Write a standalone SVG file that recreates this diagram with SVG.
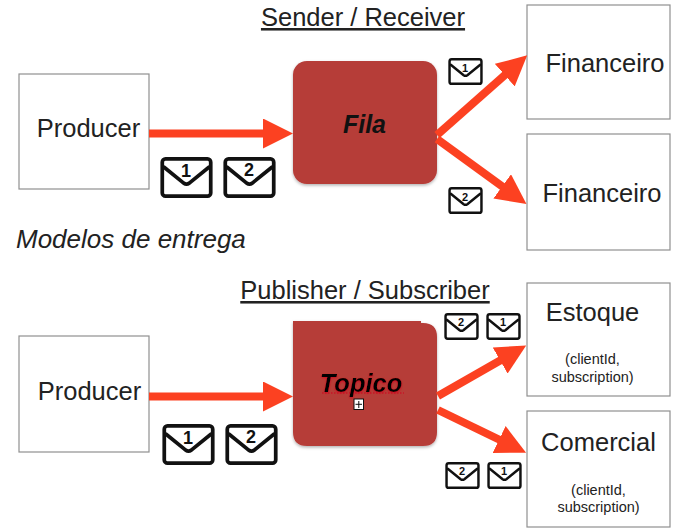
<svg xmlns="http://www.w3.org/2000/svg" width="681" height="531" viewBox="0 0 681 531">
<defs>
<style>
text{font-family:"Liberation Sans",Arial,sans-serif;fill:#222}
.box{fill:#fff;stroke:#909090;stroke-width:1.2}
.lbl{font-size:25.500px;text-anchor:middle}
.title{font-size:25.500px;text-anchor:middle;text-decoration:underline}
.small{font-size:14.500px;text-anchor:middle}
.red{fill:#b63c38}
.arrow{stroke:#fc4121;fill:none}
.env{fill:#fff;stroke:#111;stroke-linejoin:round;stroke-linecap:round;stroke-width:4}
.n{font-weight:bold;text-anchor:middle;fill:#111}
.big{font-size:18px}
.sm{font-size:11px}
</style>
<marker id="head" markerUnits="userSpaceOnUse" markerWidth="30" markerHeight="30" refX="1" refY="15" orient="auto" viewBox="0 0 30 30"><path d="M0 0L30 15L0 30z" fill="#fc4121"/></marker>
<symbol id="envelope" viewBox="-2 -2 56 44" overflow="visible">
<rect class="env" x="0" y="0" width="52" height="40" rx="3.5"/>
<path class="env" d="M2 9L23 26Q26 28 29 26L50 9" fill="none"/>
</symbol>
<filter id="sh" x="-10%" y="-10%" width="120%" height="120%"><feDropShadow dx="0" dy="1.5" stdDeviation="1.5" flood-color="#000" flood-opacity=".3"/></filter>
<filter id="tsh" x="-20%" y="-20%" width="140%" height="140%"><feDropShadow dx="0" dy="1" stdDeviation="1" flood-color="#d3001c" flood-opacity=".8"/></filter>
</defs>
<rect width="681" height="531" fill="#fff"/>
<text class="title" x="363" y="26">Sender / Receiver</text>
<text x="16" y="248" font-size="26" font-style="italic">Modelos de entrega</text>
<text class="title" x="365" y="299">Publisher / Subscriber</text>
<g id="producer-1"><rect class="box" x="19" y="74" width="130" height="115"/><text class="lbl" x="88.500" y="137">Producer</text></g>
<g id="fila"><rect class="red" x="293" y="61" width="144" height="123" rx="14" filter="url(#sh)"/><text x="364.500" y="133" font-size="25" font-weight="bold" font-style="italic" text-anchor="middle" style="fill:#111">Fila</text></g>
<g id="financeiro-1"><rect class="box" x="527" y="5" width="143" height="114"/><text class="lbl" x="605" y="72">Financeiro</text></g>
<g id="financeiro-2"><rect class="box" x="527" y="134" width="143" height="116"/><text class="lbl" x="602" y="202">Financeiro</text></g>
<g id="producer-2"><rect class="box" x="19" y="336" width="130" height="116"/><text class="lbl" x="89.500" y="400">Producer</text></g>
<g id="topico"><path class="red" d="M293 321H421V323H423Q437 323 437 337V432Q437 446 423 446H307Q293 446 293 432Z" filter="url(#sh)"/>
<path d="M322 393H404" stroke="#d3001c" stroke-width="1" stroke-dasharray="1.5 1.5"/>
<text x="361" y="392" font-size="25.500" font-weight="bold" font-style="italic" text-anchor="middle" style="fill:#050505" filter="url(#tsh)">Topico</text>
<rect x="354" y="399" width="9.500" height="10.500" fill="#fff" stroke="#111"/><path d="M355.500 404.300H362M358.800 401V408" stroke="#111"/></g>
<g id="estoque"><rect class="box" x="527" y="283" width="143" height="113"/><text class="lbl" x="592.500" y="321">Estoque</text><text class="small" x="592.500" y="364">(clientId,</text><text class="small" x="592.500" y="382">subscription)</text></g>
<g id="comercial"><rect class="box" x="527" y="411" width="143" height="116"/><text class="lbl" x="598.500" y="451">Comercial</text><text class="small" x="598.500" y="495">(clientId,</text><text class="small" x="598.500" y="512">subscription)</text></g>
<g id="connectors">
<line class="arrow" stroke-width="8" x1="149" y1="133.500" x2="264" y2="133.500" marker-end="url(#head)"/>
<line class="arrow" stroke-width="8" x1="437" y1="135" x2="505.500" y2="74.500" marker-end="url(#head)"/>
<line class="arrow" stroke-width="8" x1="437" y1="139" x2="503" y2="187" marker-end="url(#head)"/>
<line class="arrow" stroke-width="8" x1="149" y1="396.500" x2="264" y2="396.500" marker-end="url(#head)"/>
<line class="arrow" stroke-width="8" x1="438" y1="396" x2="501" y2="360" marker-end="url(#head)"/>
<line class="arrow" stroke-width="8" x1="438" y1="410" x2="500" y2="440" marker-end="url(#head)"/>
</g>
<g id="envelopes">
<use href="#envelope" x="160" y="157" width="53" height="41"/><text class="n big" x="186" y="177">1</text>
<use href="#envelope" x="223" y="157" width="53" height="41"/><text class="n big" x="249" y="176">2</text>
<use href="#envelope" x="448" y="58" width="35" height="27"/><text class="n sm" x="465" y="72">1</text>
<use href="#envelope" x="448" y="187" width="35" height="27"/><text class="n sm" x="465" y="201">2</text>
<use href="#envelope" x="162" y="424" width="53" height="41"/><text class="n big" x="188" y="444">1</text>
<use href="#envelope" x="225" y="424" width="53" height="41"/><text class="n big" x="251" y="443">2</text>
<use href="#envelope" x="444" y="313" width="35" height="27"/><text class="n sm" x="461" y="326">2</text>
<use href="#envelope" x="486" y="313" width="35" height="27"/><text class="n sm" x="503" y="326">1</text>
<use href="#envelope" x="445" y="462" width="35" height="27"/><text class="n sm" x="462" y="475">2</text>
<use href="#envelope" x="487" y="462" width="35" height="27"/><text class="n sm" x="504" y="475">1</text>
</g>
</svg>
